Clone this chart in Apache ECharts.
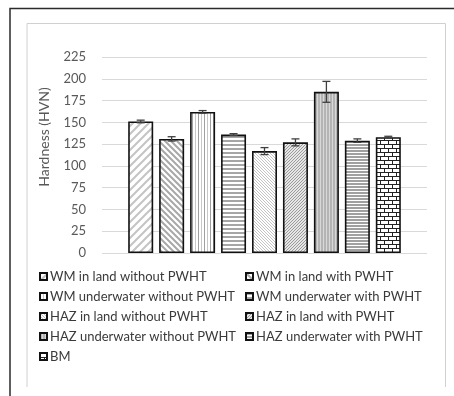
<!DOCTYPE html>
<html><head><meta charset="utf-8">
<script src="https://cdn.jsdelivr.net/npm/echarts@6/dist/echarts.min.js"></script>
<style>html,body{margin:0;padding:0;background:#fff}#c{width:454px;height:396px}</style>
</head><body><div id="c"></div>
<script>
var seriesNames = ['WM in land without PWHT','WM in land with PWHT','WM underwater without PWHT','WM underwater with PWHT','HAZ in land without PWHT','HAZ in land with PWHT','HAZ underwater without PWHT','HAZ underwater with PWHT','BM'];
var hardness = [151, 131, 162, 136, 117, 127, 185, 129, 133];
var errors = [1.5, 2.5, 1.5, 1, 4, 4, 12, 2, 1];
var yTicks = [0, 25, 50, 75, 100, 125, 150, 175, 200, 225];

function pat(w, h, draw) {
  var c = document.createElement('canvas'); c.width = w; c.height = h;
  var g = c.getContext('2d'); g.fillStyle = '#fff'; g.fillRect(0,0,w,h);
  draw(g, w, h);
  return {image: c, repeat: 'repeat'};
}
function diag(g, s, col, lw, up) {
  g.strokeStyle = col; g.lineWidth = lw; g.beginPath();
  for (var k = -1; k <= 1; k++) {
    if (up) { g.moveTo(k*s - 1, s + 1); g.lineTo(k*s + s + 1, -1); }
    else { g.moveTo(k*s - 1, -1); g.lineTo(k*s + s + 1, s + 1); }
  }
  g.stroke();
}
var patterns = [
  pat(8,8,function(g){diag(g,8,'#c4c4c4',2,true);}),
  pat(6,6,function(g){diag(g,6,'#a8a8a8',2,false);}),
  pat(6,1,function(g){g.fillStyle='#a0a0a0';g.fillRect(0,0,1,1);g.fillStyle='#c8c8c8';g.fillRect(3,0,1,1);}),
  pat(1,4,function(g){g.fillStyle='#a6a6a6';g.fillRect(0,0,1,2);}),
  pat(3,3,function(g){diag(g,3,'#c4c4c4',1,false);}),
  pat(3,3,function(g){g.fillStyle='#e6e6e6';g.fillRect(0,0,3,3);diag(g,3,'#9a9a9a',1,true);}),
  pat(3,1,function(g){g.fillStyle='#b4b4b4';g.fillRect(0,0,2,1);g.fillStyle='#d8d8d8';g.fillRect(2,0,1,1);}),
  pat(1,3,function(g){g.fillStyle='#a0a0a0';g.fillRect(0,0,1,2);}),
  pat(8,8,function(g){g.fillStyle='#222';g.fillRect(0,0,8,1);g.fillRect(0,4,8,1);g.fillRect(0,0,1,4);g.fillRect(4,4,1,4);})
];

var series = seriesNames.map(function(n, i){
  return {
    name: n, type: 'bar', barWidth: 25, barGap: '-100%',
    data: [[i + 1, hardness[i]]],
    itemStyle: {color: patterns[i], borderColor: '#111', borderWidth: 1.6},
    emphasis: {disabled: true}
  };
});
series.push({
  type: 'custom', name: 'err', z: 10, silent: true,
  data: hardness.map(function(v, i){ return [i + 1, v - errors[i], v + errors[i]]; }),
  renderItem: function(params, api){
    var x = api.value(0);
    var lo = api.coord([x, api.value(1)]);
    var hi = api.coord([x, api.value(2)]);
    var st = {stroke: '#404040', lineWidth: 1.3};
    return {type: 'group', children: [
      {type:'line', shape:{x1:lo[0],y1:lo[1],x2:hi[0],y2:hi[1]}, style: st},
      {type:'line', shape:{x1:lo[0]-4,y1:lo[1],x2:lo[0]+4,y2:lo[1]}, style: st},
      {type:'line', shape:{x1:hi[0]-4,y1:hi[1],x2:hi[0]+4,y2:hi[1]}, style: st}
    ]};
  }
});

var font = 'Lato';
var legendCommon = {
  orient: 'vertical', itemWidth: 7, itemHeight: 7, itemGap: 7, icon: 'rect',
  textStyle: {fontFamily: font, fontSize: 13, color: '#3a3a3a', padding: [0,0,0,-2]},
  selectedMode: false, padding: 0
};
var chart = echarts.init(document.getElementById('c'), null, {renderer: 'canvas'});
chart.setOption({
  animation: false,
  backgroundColor: '#fff',
  grid: {left: 102, right: 27, top: 57, bottom: 143},
  xAxis: {type: 'value', min: -0.25, max: 10.25, show: false},
  yAxis: {
    type: 'value', min: yTicks[0], max: yTicks[yTicks.length-1], interval: 25,
    axisLine: {show: false}, axisTick: {show: false},
    axisLabel: {fontFamily: font, fontSize: 13, color: '#595959', margin: 16},
    splitLine: {lineStyle: {color: '#d9d9d9', width: 1}}
  },
  legend: [
    Object.assign({left: 39, top: 270, data: [0,2,4,6,8].map(function(i){return seriesNames[i];})}, legendCommon),
    Object.assign({left: 245, top: 270, data: [1,3,5,7].map(function(i){return seriesNames[i];})}, legendCommon)
  ],
  graphic: [
    {type: 'polyline', shape: {points: [[27,387],[27,23.5],[445.5,23.5],[445.5,387]]}, style: {stroke: '#d0d0d0', lineWidth: 1, fill: null}},
    {type: 'polyline', shape: {points: [[10,396],[10,8.5],[454,8.5]]}, style: {stroke: '#2a2a2a', lineWidth: 1.5, fill: null}},
    {type: 'text', x: 44, y: 137, rotation: Math.PI/2, style: {text: 'Hardness (HVN)', fontFamily: font, fontSize: 14, fill: '#595959', align: 'center', verticalAlign: 'middle'}}
  ],
  series: series
});
</script></body></html>
